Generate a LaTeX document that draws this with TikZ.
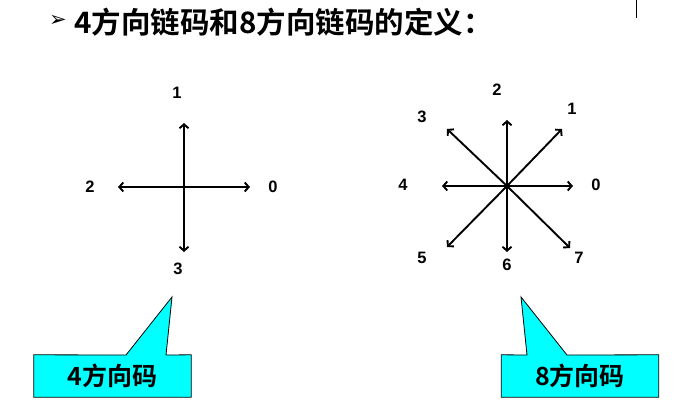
\documentclass[tikz,border=0pt]{standalone}
\usepackage{fontspec}
\setmainfont{Liberation Sans}
\newfontfamily\cjk{Noto Sans CJK SC Bold}
\newfontfamily\dingfont{DejaVu Sans}
\usetikzlibrary{arrows.meta,backgrounds}
\definecolor{calloutcyan}{HTML}{00FFFF}

\begin{document}
\begin{tikzpicture}[x=1pt,y=-1pt,font=\bfseries,
    dirarrow/.style={line width=1.9pt,-{Straight Barb[length=4pt,width=9pt]}},
    dirlabel/.style={inner sep=0pt,font=\fontsize{16.5}{16.5}\selectfont\bfseries},
    codebox/.style={inner sep=0pt,minimum width=157pt,minimum height=42pt,font=\fontsize{25}{25}\selectfont\cjk},
    calloutshape/.style={fill=calloutcyan,draw=black,line width=0.8pt,line join=miter}]
  \useasboundingbox (0,0) rectangle (692,406);
  % title
  \node[inner sep=0pt,font=\fontsize{21}{21}\selectfont\dingfont] (bullet) at (58,21) {➢};
  \node[anchor=west,inner sep=0pt,font=\fontsize{29.5}{29.5}\selectfont\cjk] (title) at (74,22) {4方向链码和8方向链码的定义：};
  \draw[line width=0.8pt] (636,0) -- (636,18);

  % 4 directions
  \coordinate (c4) at (184,187);
  \coordinate (e4-0) at (250,187);
  \coordinate (e4-1) at (184,123);
  \coordinate (e4-2) at (118,187);
  \coordinate (e4-3) at (184,252);
  \draw[dirarrow] (c4) -- (e4-0);
  \draw[dirarrow] (c4) -- (e4-1);
  \draw[dirarrow] (c4) -- (e4-2);
  \draw[dirarrow] (c4) -- (e4-3);
  \node[dirlabel] (l4-0) at (273,187) {0};
  \node[dirlabel] (l4-1) at (177,93) {1};
  \node[dirlabel] (l4-2) at (90,187) {2};
  \node[dirlabel] (l4-3) at (178,269) {3};

  % 8 directions
  \coordinate (c8) at (507,186);
  \coordinate (e8-0) at (573,186);
  \coordinate (e8-1) at (562,129);
  \coordinate (e8-2) at (507,120);
  \coordinate (e8-3) at (447,129);
  \coordinate (e8-4) at (442,186);
  \coordinate (e8-5) at (447,247);
  \coordinate (e8-6) at (507,252);
  \coordinate (e8-7) at (570,248);
  \foreach \d in {0,...,7}
    \draw[dirarrow] (c8) -- (e8-\d);
  \node[dirlabel] (l8-0) at (596,185) {0};
  \node[dirlabel] (l8-1) at (572,109) {1};
  \node[dirlabel] (l8-2) at (497,90) {2};
  \node[dirlabel] (l8-3) at (422,117) {3};
  \node[dirlabel] (l8-4) at (403,185) {4};
  \node[dirlabel] (l8-5) at (422,258) {5};
  \node[dirlabel] (l8-6) at (507,265) {6};
  \node[dirlabel] (l8-7) at (579,258) {7};

  % callouts
  \node[codebox] (box4) at (112.5,376) {4方向码};
  \node[codebox] (box8) at (580,376) {8方向码};
  \coordinate (tip4) at (172,297);
  \coordinate (tip8) at (521,297);
  \begin{scope}[on background layer]
    \path[calloutshape] (box4.south west) -- (box4.north west) -- (126,355) -- (tip4)
      -- (166,355) -- (box4.north east) -- (box4.south east) -- cycle;
    \path[calloutshape] (box8.south west) -- (box8.north west) -- (527,355) -- (tip8)
      -- (567,355) -- (box8.north east) -- (box8.south east) -- cycle;
  \end{scope}
\end{tikzpicture}
\end{document}
